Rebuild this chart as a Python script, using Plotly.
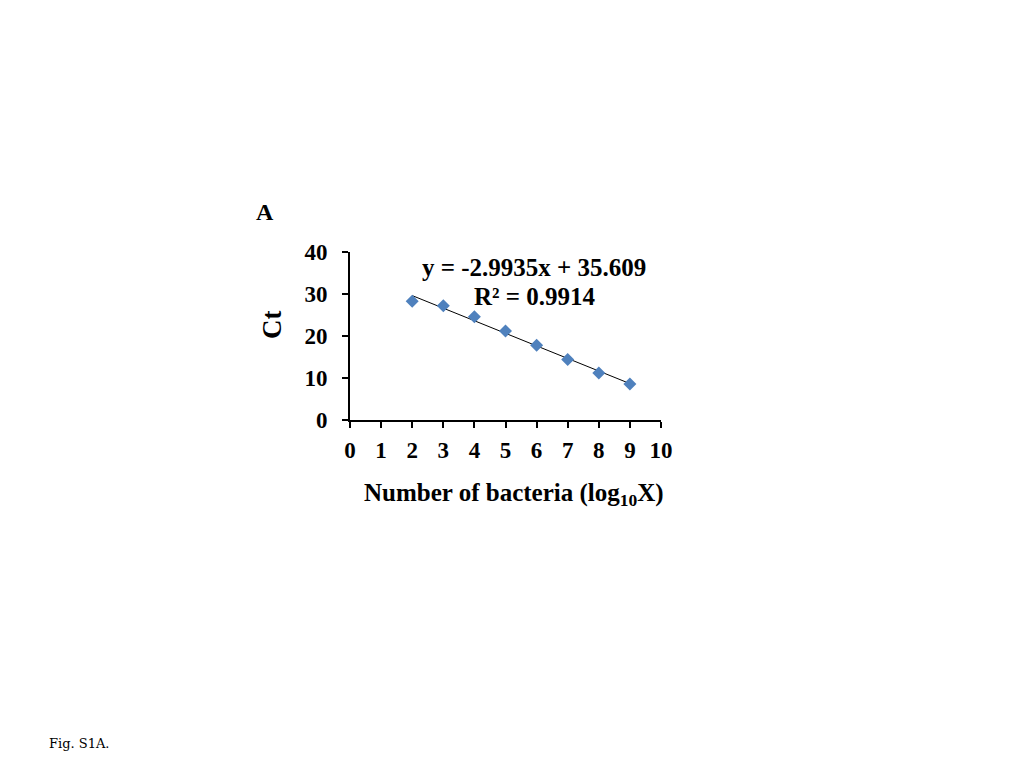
import plotly.graph_objects as go

log_bacteria = [2, 3, 4, 5, 6, 7, 8, 9]
ct_values = [28.3, 27.2, 24.6, 21.2, 17.8, 14.4, 11.2, 8.6]
slope = -2.9935
intercept = 35.609
r2 = 0.9914
x_ticks = list(range(0, 11))
y_ticks = [0, 10, 20, 30, 40]

fit_x = [min(log_bacteria), max(log_bacteria)]
fit_y = [slope * v + intercept for v in fit_x]

FONT = "Liberation Serif"

fig = go.Figure()
fig.add_trace(go.Scatter(x=fit_x, y=fit_y, mode="lines",
                         line=dict(color="black", width=1), showlegend=False, hoverinfo="skip"))
fig.add_trace(go.Scatter(x=log_bacteria, y=ct_values, mode="markers",
                         marker=dict(symbol="diamond", color="#4F81BD", size=10,
                                     line=dict(width=0)), showlegend=False))

# page body adds an 8px offset, compensated in margins
fig.update_layout(
    width=1024, height=768,
    margin=dict(l=342, r=371, t=244, b=356),
    paper_bgcolor="white", plot_bgcolor="white",
    font=dict(family=FONT, color="black"),
)
fig.update_xaxes(range=[0, 10], tickvals=x_ticks, ticktext=[f"<b>{v}</b>" for v in x_ticks],
                 showgrid=False, zeroline=False, showline=True, linecolor="black", linewidth=2,
                 ticks="outside", ticklen=6, tickwidth=2, tickcolor="black",
                 tickfont=dict(family=FONT, size=23, color="black"), ticklabelstandoff=2)
fig.update_yaxes(range=[0, 40], tickvals=y_ticks, ticktext=[f"<b>{v}</b>" for v in y_ticks],
                 showgrid=False, zeroline=False, showline=True, linecolor="black", linewidth=2,
                 ticks="outside", ticklen=6, tickwidth=2, tickcolor="black",
                 tickfont=dict(family=FONT, size=23, color="black"), ticklabelstandoff=10)

C = dict(xanchor="center", yanchor="middle", showarrow=False)
fig.add_annotation(text=f"<b>y = {slope}x + {intercept}</b>", xref="x", yref="y",
                   x=5.92, y=36.2, font=dict(family=FONT, size=25, color="black"), **C)
fig.add_annotation(text=f"<b>R² = {r2}</b>", xref="x", yref="y",
                   x=5.95, y=29.5, font=dict(family=FONT, size=25, color="black"), **C)
fig.add_annotation(text="<b>A</b>", xref="paper", yref="paper", x=-0.273, y=1.238,
                   font=dict(family=FONT, size=24, color="black"), **C)
fig.add_annotation(text="<b>Ct</b>", xref="paper", yref="paper", x=-0.251, y=0.571,
                   textangle=-90, font=dict(family=FONT, size=27, color="black"), **C)
fig.add_annotation(text="<b>Number of bacteria (log<sub>10</sub>X)</b>", xref="paper", yref="paper",
                   x=0.527, y=-0.446, font=dict(family=FONT, size=25, color="black"), **C)
fig.add_annotation(text="Fig. S1A.", xref="paper", yref="paper", x=-0.974, y=-1.923,
                   xanchor="left", yanchor="middle", showarrow=False,
                   font=dict(family="DejaVu Serif", size=13, color="black"))

fig.write_html("out.html")
